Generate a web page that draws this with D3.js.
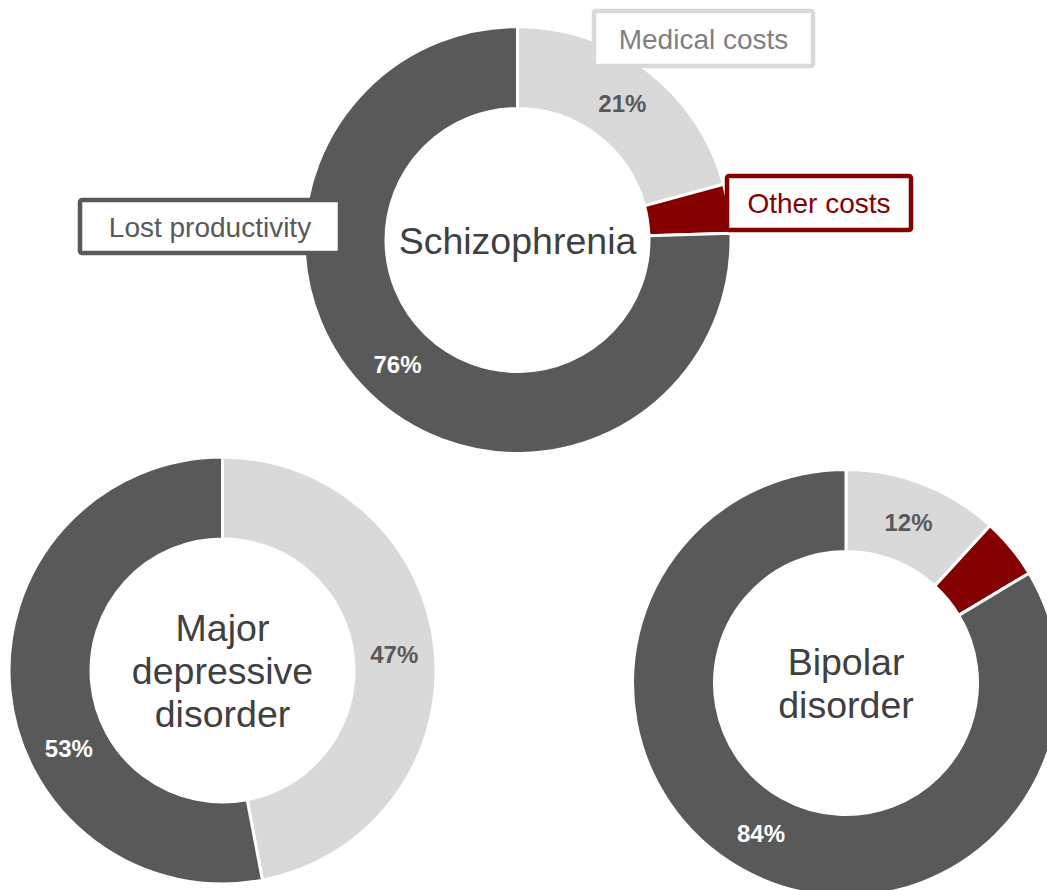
<!DOCTYPE html>
<html>
<head>
<meta charset="utf-8">
<script src="https://cdn.jsdelivr.net/npm/d3@7"></script>
<style>
  body { margin: 0; background: #fff; }
  svg { display: block; font-family: "Liberation Sans", Arial, sans-serif; }
</style>
</head>
<body>
<div id="graph"></div>
<script>
// cost shares (%) per disorder
var disorders = ["Schizophrenia", "Major depressive disorder", "Bipolar disorder"];
var categories = ["Medical costs", "Other costs", "Lost productivity"];
var medical = [20.8, 47, 11.8];
var other = [3.7, 0, 4.6];
var lost = [75.5, 53, 83.6];
var showLabel = [true, false, true]; // per category
var centerLines = [["Schizophrenia"], ["Major", "depressive", "disorder"], ["Bipolar", "disorder"]];

var colors = ["#d9d9d9", "#850000", "#595959"];
var labelColors = ["#595959", "#fff", "#fff"];

// layout
var W = 1047, H = 890;
var centers = [[517.5, 240], [222.5, 670.5], [846, 683]];
var outerR = 213.5, innerR = 131.5;
// one data label was dragged in the original
var labelAngleFix = { "1-2": 243 };

var svg = d3.select("#graph").append("svg")
	.attr("width", W)
	.attr("height", H);

svg.append("rect").attr("width", W).attr("height", H).attr("fill", "#fff");

var pie = d3.pie().sort(null).value(function(d) { return d.v; });
var arc = d3.arc().innerRadius(innerR).outerRadius(outerR);
var midR = (innerR + outerR) / 2;

disorders.forEach(function(name, i) {
	var data = [medical[i], other[i], lost[i]].map(function(v, k) {
		return { v: v, k: k };
	});
	var arcs = pie(data).filter(function(d) { return d.data.v > 0; });

	var g = svg.append("g")
		.attr("transform", "translate(" + centers[i][0] + "," + centers[i][1] + ")");

	g.selectAll("path")
		.data(arcs)
		.enter()
			.append("path")
			.attr("d", arc)
			.attr("fill", function(d) { return colors[d.data.k]; })
			.attr("stroke", "#fff")
			.attr("stroke-width", 3)
			.attr("stroke-linejoin", "round");

	g.selectAll("text.pct")
		.data(arcs.filter(function(d) { return showLabel[d.data.k]; }))
		.enter()
			.append("text")
			.attr("class", "pct")
			.attr("transform", function(d) {
				var fix = labelAngleFix[i + "-" + d.data.k];
				var a = fix !== undefined ? fix * Math.PI / 180 : (d.startAngle + d.endAngle) / 2;
				return "translate(" + (midR * Math.sin(a)) + "," + (-midR * Math.cos(a)) + ")";
			})
			.attr("text-anchor", "middle")
			.attr("dy", "0.36em")
			.attr("font-size", 24)
			.attr("font-weight", "bold")
			.attr("fill", function(d) { return labelColors[d.data.k]; })
			.text(function(d) { return Math.round(d.data.v) + "%"; });

	var lines = centerLines[i];
	g.selectAll("text.name")
		.data(lines)
		.enter()
			.append("text")
			.attr("class", "name")
			.attr("text-anchor", "middle")
			.attr("y", function(d, j) { return (j - (lines.length - 1) / 2) * 43; })
			.attr("dy", "0.36em")
			.attr("font-size", 37.5)
			.attr("fill", "#404040")
			.text(function(d) { return d; });
});

// callout boxes for the categories
var callouts = [
	{ k: 0, x: 594, y: 11, w: 219, h: 55, text: "#7f7f7f" },
	{ k: 1, x: 727, y: 176, w: 184, h: 54, text: "#850000" },
	{ k: 2, x: 80, y: 200, w: 260, h: 53, text: "#595959" }
];

var cg = svg.selectAll("g.callout")
	.data(callouts)
	.enter()
		.append("g")
		.attr("class", "callout");

cg.append("rect")
	.attr("x", function(d) { return d.x; })
	.attr("y", function(d) { return d.y; })
	.attr("width", function(d) { return d.w; })
	.attr("height", function(d) { return d.h; })
	.attr("rx", 2)
	.attr("fill", "#fff")
	.attr("stroke", function(d) { return colors[d.k]; })
	.attr("stroke-width", 4.5);

cg.append("text")
	.attr("x", function(d) { return d.x + d.w / 2; })
	.attr("y", function(d) { return d.y + d.h / 2; })
	.attr("dy", "0.36em")
	.attr("text-anchor", "middle")
	.attr("font-size", 28)
	.attr("fill", function(d) { return d.text; })
	.text(function(d) { return categories[d.k]; });
</script>
</body>
</html>
